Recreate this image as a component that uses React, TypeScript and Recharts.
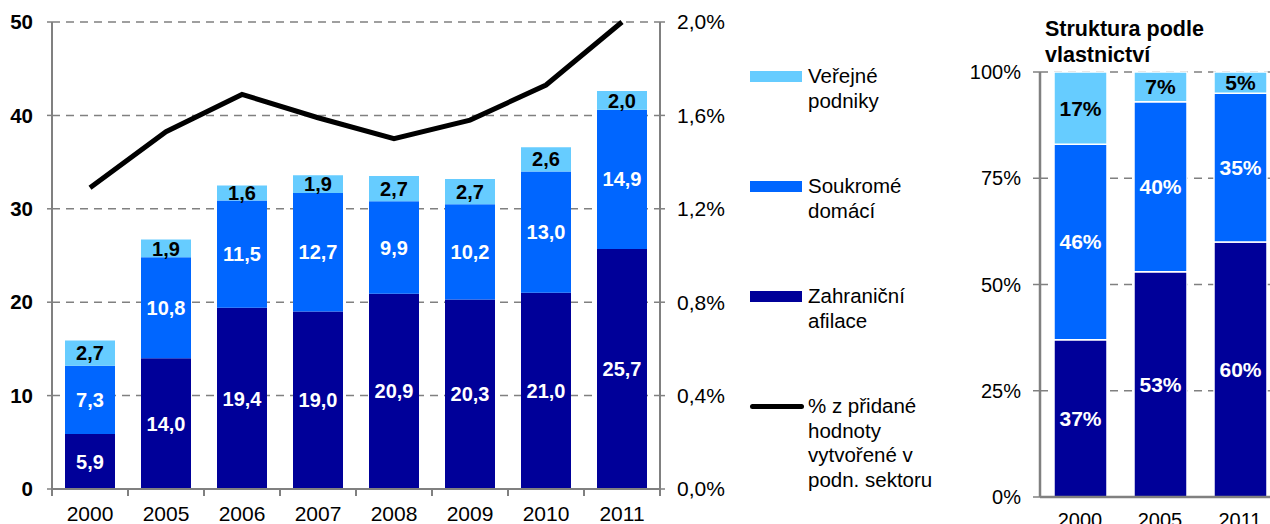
import React from 'react';
import {
  ComposedChart,
  BarChart,
  Bar,
  Line,
  XAxis,
  YAxis,
  CartesianGrid,
  LabelList,
  Legend,
} from 'recharts';

// ---- Left chart data ----
const years = ['2000', '2005', '2006', '2007', '2008', '2009', '2010', '2011'];
const foreignAffiliates = [5.9, 14.0, 19.4, 19.0, 20.9, 20.3, 21.0, 25.7];
const privateDomestic = [7.3, 10.8, 11.5, 12.7, 9.9, 10.2, 13.0, 14.9];
const publicEnterprises = [2.7, 1.9, 1.6, 1.9, 2.7, 2.7, 2.6, 2.0];
const shareOfValueAdded = [1.29, 1.53, 1.69, 1.59, 1.5, 1.58, 1.73, 2.0];
const leftTicks = [0, 10, 20, 30, 40, 50];
const rightTicks = [0, 0.4, 0.8, 1.2, 1.6, 2.0];

// ---- Right chart data ----
const structYears = ['2000', '2005', '2011'];
const structForeign = [37, 53, 60];
const structPrivate = [46, 40, 35];
const structPublic = [17, 7, 5];
const structTicks = [0, 25, 50, 75, 100];

const legendItems = [
  { name: 'Veřejné podniky', lines: ['Veřejné', 'podniky'], color: '#66CCFF', type: 'bar' },
  { name: 'Soukromé domácí', lines: ['Soukromé', 'domácí'], color: '#0066FF', type: 'bar' },
  { name: 'Zahraniční afilace', lines: ['Zahraniční', 'afilace'], color: '#000099', type: 'bar' },
  {
    name: '% z přidané hodnoty vytvořené v podn. sektoru',
    lines: ['% z přidané', 'hodnoty', 'vytvořené v', 'podn. sektoru'],
    color: '#000000',
    type: 'line',
  },
];

const mainData = years.map((y, i) => ({
  year: y,
  foreign: foreignAffiliates[i],
  priv: privateDomestic[i],
  pub: publicEnterprises[i],
  share: shareOfValueAdded[i],
}));

const structData = structYears.map((y, i) => ({
  year: y,
  foreign: structForeign[i],
  priv: structPrivate[i],
  pub: structPublic[i],
}));

const FONT = '"Liberation Sans", Arial, sans-serif';
const DARK = '#000099';
const MID = '#0066FF';
const LIGHT = '#66CCFF';
const GRID = '#808080';

const fmt1 = (v: any) => Number(v).toFixed(1).replace('.', ',');

const X_TICK_MARGIN = 17;

const EdgeTick = (props: any) => {
  const { x, y, payload, index, visibleTicksCount } = props;
  const half = payload && typeof payload.offset === 'number' && payload.offset > 0 ? payload.offset : 38;
  const axisY = y - X_TICK_MARGIN;
  return (
    <g>
      <line x1={x - half} x2={x - half} y1={axisY} y2={axisY + 7} stroke={GRID} strokeWidth={2} />
      {index === visibleTicksCount - 1 && (
        <line x1={x + half} x2={x + half} y1={axisY} y2={axisY + 7} stroke={GRID} strokeWidth={2} />
      )}
      <text x={x} y={y} dy="0.71em" textAnchor="middle" fontSize={21} fontFamily={FONT} fill="#000">
        {payload.value}
      </text>
    </g>
  );
};

const renderLegend = () => (
  <div style={{ fontFamily: FONT, fontSize: 20.5, color: '#000' }}>
    {legendItems.map((it, i) => (
      <div key={it.name} style={{ display: 'flex', alignItems: 'flex-start', marginBottom: i < legendItems.length - 1 ? 61 : 0 }}>
        {it.type === 'bar' ? (
          <div style={{ width: 52, height: 11, background: it.color, marginTop: 6.5, marginRight: 6, flexShrink: 0 }} />
        ) : (
          <div style={{ width: 54, height: 5, background: it.color, borderRadius: 3, marginTop: 9.5, marginRight: 4, flexShrink: 0 }} />
        )}
        <div style={{ lineHeight: '24.5px', whiteSpace: 'nowrap' }}>
          {it.lines.map((l) => (
            <div key={l}>{l}</div>
          ))}
        </div>
      </div>
    ))}
  </div>
);

export default function App() {
  return (
    <div
      style={{
        position: 'fixed',
        left: 0,
        top: 0,
        width: 1270,
        height: 524,
        overflow: 'hidden',
        background: '#fff',
        fontFamily: FONT,
      }}
    >
      <div style={{ position: 'absolute', left: 0, top: 0 }}>
        <ComposedChart
          width={960}
          height={524}
          data={mainData}
          margin={{ top: 22, right: 220, bottom: 0, left: 0 }}
          barCategoryGap={26}
        >
          <CartesianGrid yAxisId="left" vertical={false} stroke={GRID} strokeWidth={1.5} strokeDasharray="8 6" />
          <XAxis
            dataKey="year"
            height={35}
            tickLine={false}
            tickSize={0}
            tickMargin={X_TICK_MARGIN}
            axisLine={{ stroke: GRID, strokeWidth: 2 }}
            tick={<EdgeTick />}
            interval={0}
          />
          <YAxis
            yAxisId="left"
            width={52}
            domain={[0, 50]}
            ticks={leftTicks}
            interval={0}
            axisLine={{ stroke: GRID, strokeWidth: 2 }}
            tickLine={{ stroke: GRID, strokeWidth: 1.5 }}
            tickSize={5}
            tickMargin={14}
            tick={{ fontSize: 20.5, fontWeight: 'bold', fill: '#000', fontFamily: FONT }}
          />
          <YAxis
            yAxisId="right"
            orientation="right"
            width={80}
            domain={[0, 2]}
            ticks={rightTicks}
            interval={0}
            axisLine={{ stroke: GRID, strokeWidth: 2 }}
            tickLine={{ stroke: GRID, strokeWidth: 1.5 }}
            tickSize={5}
            tickMargin={12}
            tickFormatter={(v: number) => v.toFixed(1).replace('.', ',') + '%'}
            tick={{ fontSize: 21, fill: '#000', fontFamily: FONT, textAnchor: 'start' }}
          />
          <Bar yAxisId="left" dataKey="foreign" stackId="a" fill={DARK} barSize={50} isAnimationActive={false}>
            <LabelList dataKey="foreign" position="center" formatter={fmt1} fill="#fff" fontSize={20} fontWeight="bold" fontFamily={FONT} />
          </Bar>
          <Bar yAxisId="left" dataKey="priv" stackId="a" fill={MID} barSize={50} isAnimationActive={false}>
            <LabelList dataKey="priv" position="center" formatter={fmt1} fill="#fff" fontSize={20} fontWeight="bold" fontFamily={FONT} />
          </Bar>
          <Bar yAxisId="left" dataKey="pub" stackId="a" fill={LIGHT} barSize={50} isAnimationActive={false}>
            <LabelList dataKey="pub" position="center" formatter={fmt1} fill="#000" fontSize={20} fontWeight="bold" fontFamily={FONT} />
          </Bar>
          <Line
            yAxisId="right"
            dataKey="share"
            type="linear"
            stroke="#000"
            strokeWidth={5}
            dot={false}
            activeDot={false}
            isAnimationActive={false}
          />
          <Legend
            content={renderLegend}
            layout="horizontal"
            verticalAlign="middle"
            align="center"
            wrapperStyle={{ position: 'absolute', left: 750, top: 64, width: 210, height: 'auto' }}
          />
        </ComposedChart>
      </div>

      <div
        style={{
          position: 'absolute',
          left: 1045,
          top: 16,
          fontFamily: FONT,
          fontSize: 21.5,
          fontWeight: 'bold',
          lineHeight: '26px',
          color: '#000',
          whiteSpace: 'nowrap',
        }}
      >
        <div>Struktura podle</div>
        <div>vlastnictví</div>
      </div>

      <div style={{ position: 'absolute', left: 960, top: 0 }}>
        <BarChart
          width={320}
          height={524}
          data={structData}
          margin={{ top: 72, right: 0, bottom: 0, left: 0 }}
        >
          <CartesianGrid vertical={false} stroke={GRID} strokeWidth={1.5} strokeDasharray="8 6" />
          <XAxis
            dataKey="year"
            height={27}
            tickLine={false}
            tickMargin={10}
            axisLine={{ stroke: GRID, strokeWidth: 2.5 }}
            tick={{ fontSize: 20, fill: '#000', fontFamily: FONT }}
            interval={0}
          />
          <YAxis
            width={80}
            domain={[0, 100]}
            ticks={structTicks}
            interval={0}
            axisLine={{ stroke: GRID, strokeWidth: 2.5 }}
            tickLine={{ stroke: GRID, strokeWidth: 1.5 }}
            tickSize={7}
            tickMargin={12}
            tickFormatter={(v: number) => v + '%'}
            tick={{ fontSize: 20, fill: '#000', fontFamily: FONT }}
          />
          <Bar dataKey="foreign" stackId="s" fill={DARK} stroke="#fff" strokeWidth={1.5} barSize={53} isAnimationActive={false}>
            <LabelList dataKey="foreign" position="center" formatter={(v: any) => v + '%'} fill="#fff" fontSize={21} fontWeight="bold" fontFamily={FONT} />
          </Bar>
          <Bar dataKey="priv" stackId="s" fill={MID} stroke="#fff" strokeWidth={1.5} barSize={53} isAnimationActive={false}>
            <LabelList dataKey="priv" position="center" formatter={(v: any) => v + '%'} fill="#fff" fontSize={21} fontWeight="bold" fontFamily={FONT} />
          </Bar>
          <Bar dataKey="pub" stackId="s" fill={LIGHT} stroke="#fff" strokeWidth={1.5} barSize={53} isAnimationActive={false}>
            <LabelList dataKey="pub" position="center" formatter={(v: any) => v + '%'} fill="#000" fontSize={21} fontWeight="bold" fontFamily={FONT} />
          </Bar>
        </BarChart>
      </div>
    </div>
  );
}
